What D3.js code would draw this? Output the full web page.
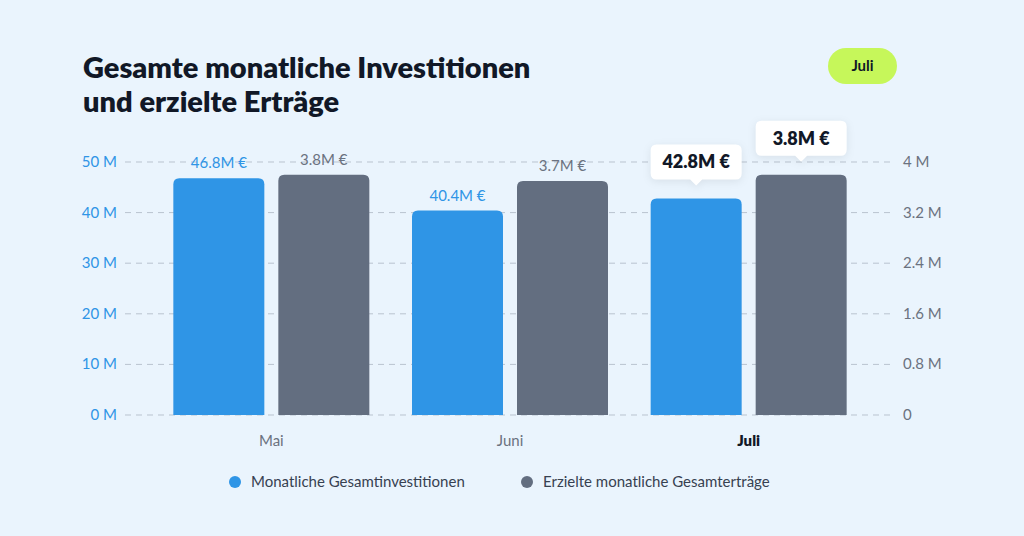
<!DOCTYPE html><html><head><meta charset="utf-8"><script src="https://cdn.jsdelivr.net/npm/d3@7"></script>
<style>body{margin:0;background:#eaf4fd;font-family:Lato,"Noto Sans",sans-serif}</style></head><body><svg id="c" width="1024" height="536"></svg>
<script>
const months=["Mai","Juni","Juli"];
const invest=[46.8,40.4,42.8];
const returns=[3.8,3.7,3.8];
const leftTicks=[0,10,20,30,40,50];
const rightTicks=[0,0.8,1.6,2.4,3.2,4];
const svg=d3.select("#c");
svg.append("rect").attr("width",1024).attr("height",536).attr("fill","#eaf4fd");
const blue="#2f95e6",gray="#636e80";
svg.append("text").attr("x",83).attr("y",78).attr("font-size",29).attr("font-weight",800).attr("fill","#111827").text("Gesamte monatliche Investitionen");
svg.append("text").attr("x",83).attr("y",112).attr("font-size",29).attr("font-weight",800).attr("fill","#111827").text("und erzielte Erträge");
svg.append("rect").attr("x",828).attr("y",48).attr("width",69).attr("height",36).attr("rx",18).attr("fill","#c6f75a");
svg.append("text").attr("x",862.5).attr("y",71).attr("text-anchor","middle").attr("font-size",15).attr("font-weight",700).attr("fill","#111827").text("Juli");
const x=d3.scaleBand().domain(months).range([152,868]).paddingInner(0).paddingOuter(0);
const yL=d3.scaleLinear().domain([0,50]).range([415,162]);
const yR=d3.scaleLinear().domain([0,4]).range([415,162]);
const g=svg.append("g");
leftTicks.forEach(t=>{
 g.append("line").attr("x1",125).attr("x2",890).attr("y1",yL(t)).attr("y2",yL(t)).attr("stroke","#b9c3cf").attr("stroke-dasharray","6,5");
 g.append("text").attr("x",117).attr("y",yL(t)+5).attr("text-anchor","end").attr("font-size",15).attr("fill",blue).text(t+" M");
});
rightTicks.forEach(t=>{
 g.append("text").attr("x",903).attr("y",yR(t)+5).attr("font-size",15).attr("fill","#6b7280").text(t===0?"0":t+" M");
});
const bw=91;
months.forEach((m,i)=>{
 const c=x(m)+x.bandwidth()/2;
 const bx=c-bw-7, gx=c+7;
 const hl=m==="Juli";
 const r=6;
 const bar=(xx,top,col)=>svg.append("path").attr("fill",col).attr("d",`M${xx},415V${top+r}Q${xx},${top} ${xx+r},${top}H${xx+bw-r}Q${xx+bw},${top} ${xx+bw},${top+r}V415Z`);
 bar(bx,yL(invest[i]),blue); bar(gx,yR(returns[i]),gray);
 svg.append("text").attr("x",c).attr("y",446).attr("text-anchor","middle").attr("font-size",15).attr("font-weight",hl?800:400).attr("fill",hl?"#111827":"#6b7280").text(m);
 const lab=(xx,top,txt,col)=>{
  if(!hl){svg.append("text").attr("x",xx+bw/2).attr("y",top-10).attr("text-anchor","middle").attr("font-size",15).attr("fill",col).text(txt);}
  else{
   const by=top-54;
   svg.append("path").attr("fill","#fff").attr("style","filter:drop-shadow(0 2px 4px rgba(0,0,0,0.08))")
    .attr("d",`M${xx+6},${by}H${xx+bw-6}Q${xx+bw},${by} ${xx+bw},${by+6}V${by+29}Q${xx+bw},${by+35} ${xx+bw-6},${by+35}H${xx+bw/2+6}L${xx+bw/2},${by+41}L${xx+bw/2-6},${by+35}H${xx+6}Q${xx},${by+35} ${xx},${by+29}V${by+6}Q${xx},${by} ${xx+6},${by}Z`);
   svg.append("text").attr("x",xx+bw/2).attr("y",by+24).attr("text-anchor","middle").attr("font-size",18).attr("font-weight",800).attr("fill","#111827").text(txt);
  }
 };
 lab(bx,yL(invest[i]),invest[i]+"M €",blue);
 lab(gx,yR(returns[i]),returns[i]+"M €","#6b7280");
});
const leg=[["Monatliche Gesamtinvestitionen",blue,235],["Erzielte monatliche Gesamterträge",gray,527]];
leg.forEach(([t,c,lx])=>{
 svg.append("circle").attr("cx",lx).attr("cy",482).attr("r",6).attr("fill",c);
 svg.append("text").attr("x",lx+16).attr("y",487).attr("font-size",15).attr("fill","#374151").text(t);
});
</script></body></html>
